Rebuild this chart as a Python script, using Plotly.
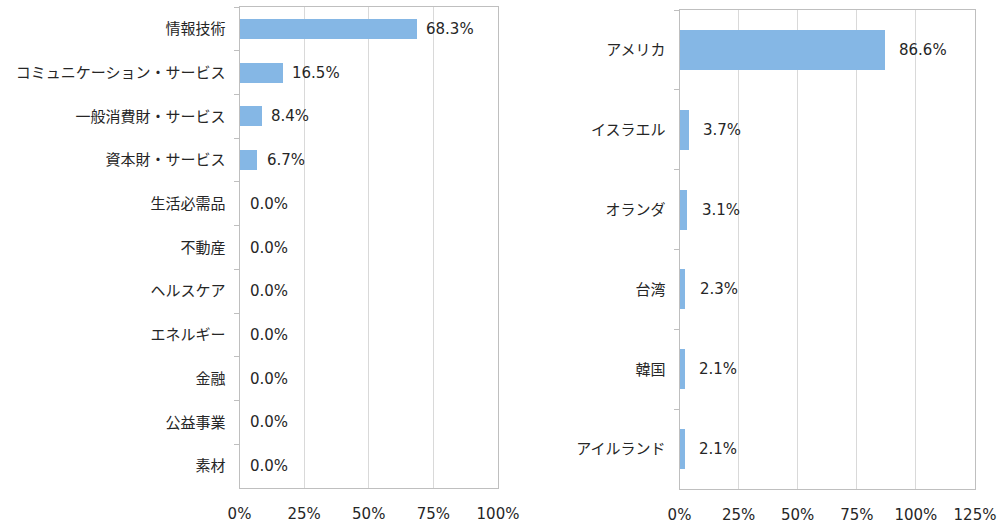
import plotly.graph_objects as go

sectors = ["情報技術", "コミュニケーション・サービス", "一般消費財・サービス", "資本財・サービス",
           "生活必需品", "不動産", "ヘルスケア", "エネルギー", "金融", "公益事業", "素材"]
sector_vals = [68.3, 16.5, 8.4, 6.7, 0.0, 0.0, 0.0, 0.0, 0.0, 0.0, 0.0]

countries = ["アメリカ", "イスラエル", "オランダ", "台湾", "韓国", "アイルランド"]
country_vals = [86.6, 3.7, 3.1, 2.3, 2.1, 2.1]

left_ticks = [0, 25, 50, 75, 100]
right_ticks = [0, 25, 50, 75, 100, 125]

BAR = "#85B7E5"
TXT = "#262626"
NUMFONT = "DejaVu Sans, Noto Sans CJK JP"
CJKFONT = "Noto Sans CJK JP"
GRID = "#D9D9D9"
LINE = "#BFBFBF"

fig = go.Figure()
fig.add_trace(go.Bar(x=sector_vals, y=sectors, orientation="h", marker_color=BAR,
                     marker_line_width=0, width=0.46, xaxis="x", yaxis="y", showlegend=False,
                     hoverinfo="skip"))
fig.add_trace(go.Bar(x=country_vals, y=countries, orientation="h", marker_color=BAR,
                     marker_line_width=0, width=0.5, xaxis="x2", yaxis="y2", showlegend=False,
                     hoverinfo="skip"))

for v, c in zip(sector_vals, sectors):
    fig.add_annotation(x=v, y=c, xref="x", yref="y", text=f"{v:.1f}%", showarrow=False,
                       xanchor="left", xshift=8, font=dict(family=NUMFONT, size=15, color=TXT))
for v, c in zip(country_vals, countries):
    fig.add_annotation(x=v, y=c, xref="x2", yref="y2", text=f"{v:.1f}%", showarrow=False,
                       xanchor="left", xshift=13, font=dict(family=NUMFONT, size=15, color=TXT))

W, H = 1002, 529
common_x = dict(showgrid=True, gridcolor=GRID, gridwidth=1, showline=True, linecolor=LINE,
                mirror=True, ticks="", zeroline=False, automargin=False,
                tickfont=dict(family=NUMFONT, size=15, color=TXT), ticklabelstandoff=12,
                fixedrange=True)
common_y = dict(showgrid=False, showline=True, linecolor=LINE, mirror=True, ticks="outside",
                tickson="boundaries", ticklen=5, tickcolor=LINE, autorange="reversed",
                tickfont=dict(family=CJKFONT, size=15, color=TXT),
                ticklabelstandoff=10, automargin=False, type="category", fixedrange=True)

fig.update_layout(
    width=W, height=H, margin=dict(l=0, r=0, t=0, b=0, autoexpand=False),
    paper_bgcolor="white", plot_bgcolor="white", bargap=0,
    xaxis=dict(domain=[239.5 / W, 498 / W], range=[0, 100], tickvals=left_ticks,
               ticktext=[f"{t}%" for t in left_ticks], anchor="y", **common_x),
    yaxis=dict(domain=[1 - 488 / H, 1 - 7 / H], anchor="x", categoryorder="array",
               categoryarray=sectors, **common_y),
    xaxis2=dict(domain=[679.5 / W, 975 / W], range=[0, 125], tickvals=right_ticks,
                ticktext=[f"{t}%" for t in right_ticks], anchor="y2", **common_x),
    yaxis2=dict(domain=[1 - 489 / H, 1 - 10 / H], anchor="x2", categoryorder="array",
                categoryarray=countries, **common_y),
)

fig.write_html("out.html")
